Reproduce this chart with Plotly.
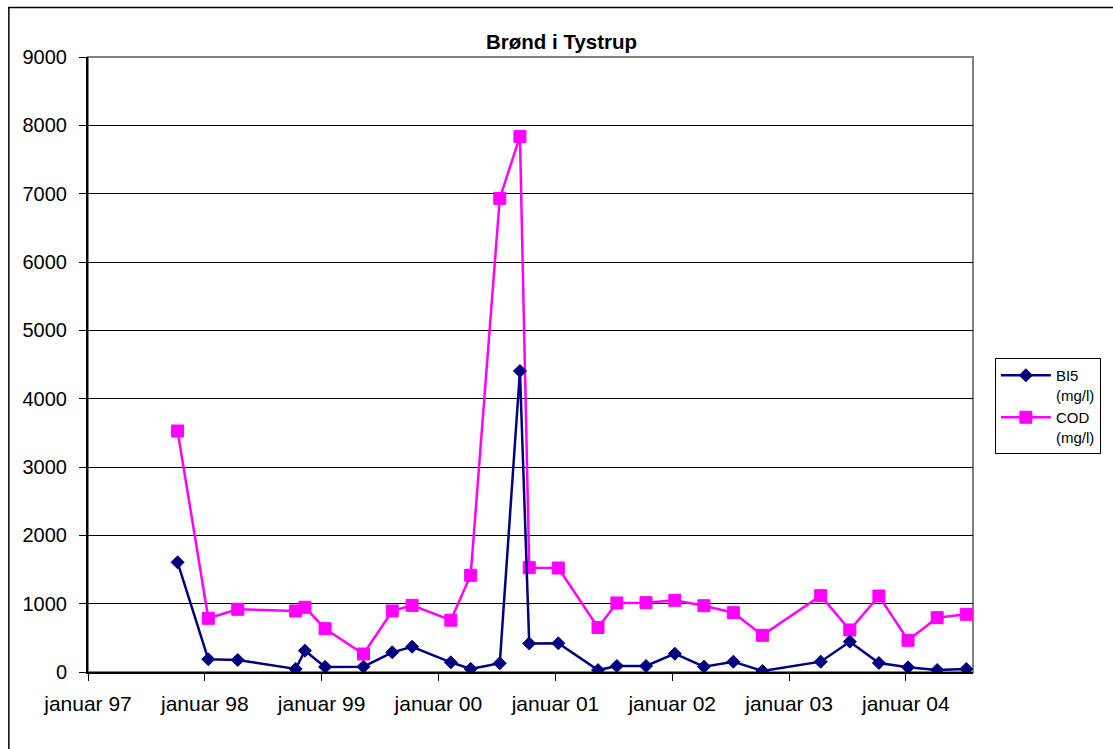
import plotly.graph_objects as go

# Sampling dates (quarterly-ish well samples)
dates = [
    "1997-10-08", "1998-01-12", "1998-04-14", "1998-10-12", "1998-11-10",
    "1999-01-12", "1999-05-12", "1999-08-10", "1999-10-11", "2000-02-09",
    "2000-04-11", "2000-07-11", "2000-09-12", "2000-10-11", "2001-01-10",
    "2001-05-14", "2001-07-12", "2001-10-11", "2002-01-09", "2002-04-10",
    "2002-07-11", "2002-10-10", "2003-04-10", "2003-07-10", "2003-10-09",
    "2004-01-08", "2004-04-08", "2004-07-08",
]

# BI5 (mg/l)
bi5 = [1605, 186, 176, 44, 312, 75, 78, 288, 370, 142,
       46, 128, 4405, 418, 420, 28, 88, 88, 268, 78,
       151, 15, 151, 444, 132, 69, 29, 44]

# COD (mg/l)
cod = [3527, 786, 918, 893, 947, 634, 263, 893, 975, 758,
       1415, 6931, 7838, 1527, 1522, 652, 1010, 1014, 1049, 970,
       868, 537, 1117, 615, 1112, 464, 795, 844]

tick_dates = ["1997-01-01", "1998-01-01", "1999-01-01", "2000-01-01",
              "2001-01-01", "2002-01-01", "2003-01-01", "2004-01-01"]
tick_labels = ["januar 97", "januar 98", "januar 99", "januar 00",
               "januar 01", "januar 02", "januar 03", "januar 04"]
y_ticks = [0, 1000, 2000, 3000, 4000, 5000, 6000, 7000, 8000, 9000]

FONT = "Liberation Sans, Arial, sans-serif"
W, H = 1113, 749
L, R, T, B = 88, 136, 57, 77
PW, PH = W - L - R, H - T - B


def px_x(px):
    return (px - L) / PW


def px_y(py):
    return (H - B - py) / PH


fig = go.Figure()

fig.add_trace(go.Scatter(
    x=dates, y=cod, name="COD<br>(mg/l)", mode="lines+markers",
    line=dict(color="#FF00FF", width=2.5),
    marker=dict(symbol="square", size=12, color="#FF00FF",
                line=dict(color="#FF00FF", width=1)),
))
fig.add_trace(go.Scatter(
    x=dates, y=bi5, name="BI5<br>(mg/l)", mode="lines+markers",
    line=dict(color="#000080", width=2.5),
    marker=dict(symbol="diamond", size=10, color="#000080",
                line=dict(color="#000080", width=1)),
))

fig.update_layout(
    width=W, height=H,
    margin=dict(l=L, r=R, t=T, b=B, pad=0),
    paper_bgcolor="white", plot_bgcolor="white",
    font=dict(family=FONT, color="black", size=20),
    showlegend=True,
    legend=dict(
        x=px_x(999), y=px_y(358), xanchor="left", yanchor="top",
        bordercolor="black", borderwidth=1, bgcolor="white",
        font=dict(family=FONT, size=15, color="black"),
        traceorder="reversed", valign="top", itemwidth=50,
        tracegroupgap=0,
    ),
    xaxis=dict(
        type="date",
        range=["1997-01-01", "2004-07-29"],
        tickvals=tick_dates, ticktext=tick_labels,
        ticks="outside", ticklen=7, tickcolor="black", tickwidth=1,
        ticklabelstandoff=5,
        showgrid=False, zeroline=False,
        showline=True, linecolor="black", linewidth=1.5,
        tickfont=dict(family=FONT, size=21, color="black"),
    ),
    yaxis=dict(
        range=[0, 9000],
        tickvals=y_ticks,
        ticks="outside", ticklen=7, tickcolor="black", tickwidth=1,
        ticklabelstandoff=8,
        showgrid=True, gridcolor="black", gridwidth=1,
        zeroline=False,
        showline=True, linecolor="black", linewidth=2,
        tickfont=dict(family=FONT, size=20, color="black"),
    ),
    annotations=[dict(
        text="<b>Brønd i Tystrup</b>", xref="paper", yref="paper",
        x=px_x(564), y=px_y(41.5), xanchor="center", yanchor="middle",
        showarrow=False, font=dict(family=FONT, size=20.5, color="black"),
    )],
    shapes=[
        # plot-area frame
        dict(type="rect", xref="paper", yref="paper", x0=0, x1=1, y0=0, y1=1,
             line=dict(color="#808080", width=2), layer="below"),
        # chart-area frame (top and left edges)
        dict(type="line", xref="paper", yref="paper",
             x0=px_x(8), x1=px_x(1200), y0=px_y(7.5), y1=px_y(7.5),
             line=dict(color="black", width=1.5)),
        dict(type="line", xref="paper", yref="paper",
             x0=px_x(8.5), x1=px_x(8.5), y0=px_y(7), y1=px_y(800),
             line=dict(color="black", width=1.5)),
    ],
)

fig.write_html("out.html")
